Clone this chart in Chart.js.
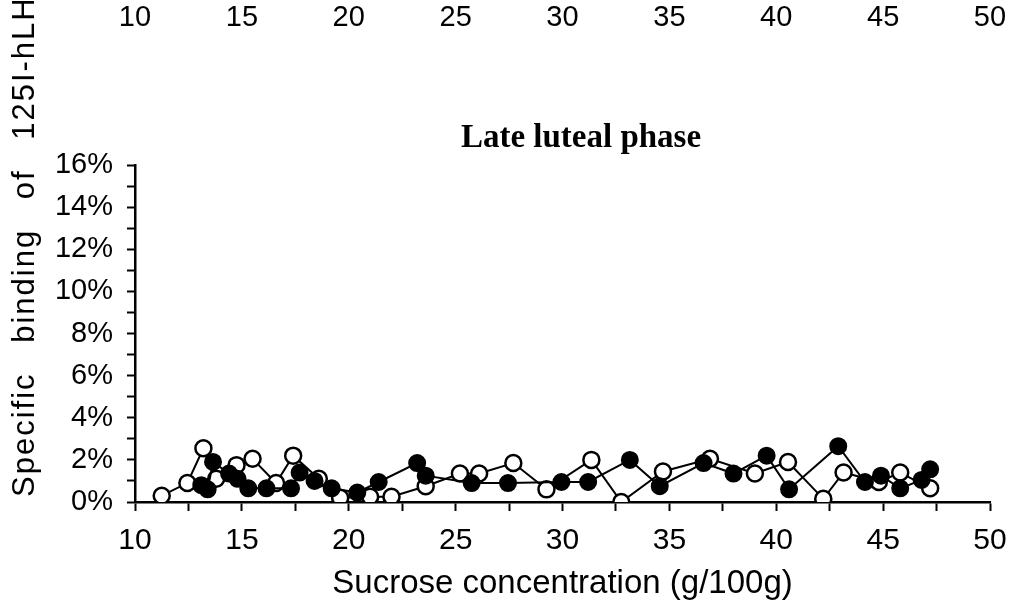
<!DOCTYPE html>
<html>
<head>
<meta charset="utf-8">
<script src="https://cdn.jsdelivr.net/npm/chart.js@4/dist/chart.umd.min.js"></script>
<style>
  html, body { margin: 0; padding: 0; background: #fff; }
  canvas { display: block; }
</style>
</head>
<body>
<canvas id="grafico" width="1015" height="610"></canvas>
<script>
// ── DATOS ─────────────────────────────────────────────
const tituloPanel = "Late luteal phase";
const tituloX = "Sucrose concentration (g/100g)";
const tituloY = "Specific binding of 125I-hLH";
const etiquetasArriba = [10, 15, 20, 25, 30, 35, 40, 45, 50];

// open circles
const abiertoX = [11.25, 12.45, 13.2, 13.8, 14.75, 15.5, 16.6, 17.4, 18.6, 19.6, 21.0, 22.0, 23.6,
  25.2, 26.1, 27.7, 29.25, 31.35, 32.75, 34.7, 36.9, 39.0, 40.55, 42.2, 43.15, 44.8, 45.8, 47.2];
const abiertoY = [0.3, 0.9, 2.55, 1.1, 1.75, 2.05, 0.9, 2.2, 1.1, 0.2, 0.25, 0.25, 0.75,
  1.35, 1.35, 1.85, 0.6, 2.0, 0.0, 1.45, 2.05, 1.35, 1.9, 0.15, 1.4, 0.95, 1.4, 0.65];

// filled circles
const llenoX = [13.1, 13.4, 13.65, 14.4, 14.8, 15.3, 16.15, 17.3, 17.7, 18.4, 19.2, 20.4, 21.4,
  23.2, 23.6, 25.75, 27.45, 29.95, 31.2, 33.15, 34.55, 36.6, 38.0, 39.55, 40.6, 42.9,
  44.15, 44.9, 45.8, 46.8, 47.2];
const llenoY = [0.8, 0.6, 1.9, 1.35, 1.1, 0.65, 0.65, 0.65, 1.4, 1.0, 0.65, 0.45, 0.95,
  1.85, 1.25, 0.9, 0.9, 0.95, 0.95, 2.0, 0.75, 1.85, 1.35, 2.2, 0.6, 2.65,
  0.95, 1.25, 0.65, 1.05, 1.55];

const puntos = (xs, ys) => xs.map((x, i) => ({ x, y: ys[i] }));

const fuente = "'Liberation Sans', Arial, sans-serif";

// ── TEXTOS EXTRA ──────────────────────────────────────
const textosExtra = {
  id: "textosExtra",
  afterDraw(chart) {
    const ctx = chart.ctx;
    const escalaX = chart.scales.x;
    ctx.save();
    ctx.fillStyle = "#000";

    // etiquetas del panel de arriba (recortado)
    ctx.font = "29px " + fuente;
    ctx.textAlign = "center";
    ctx.textBaseline = "middle";
    etiquetasArriba.forEach(v => ctx.fillText(String(v), escalaX.getPixelForValue(v), 18));

    // titulo del panel
    ctx.font = "bold 33px 'Liberation Serif', 'DejaVu Serif', serif";
    ctx.fillText(tituloPanel, 581, 138);

    // titulo del eje Y, girado
    ctx.translate(34, 497);
    ctx.rotate(-Math.PI / 2);
    ctx.font = "31px " + fuente;
    ctx.textAlign = "left";
    ctx.textBaseline = "alphabetic";
    ctx.letterSpacing = "2px";
    ctx.wordSpacing = "19px";
    ctx.fillText(tituloY, 0, 0);
    ctx.restore();
  }
};

// ── GRAFICO ───────────────────────────────────────────
const ctx = document.getElementById("grafico").getContext("2d");
new Chart(ctx, {
  type: "scatter",
  data: {
    datasets: [
      {
        label: "lleno",
        data: puntos(llenoX, llenoY),
        showLine: true,
        borderColor: "#000",
        backgroundColor: "#000",
        borderWidth: 2,
        pointRadius: 8,
        pointBorderWidth: 2,
        pointBackgroundColor: "#000",
        pointBorderColor: "#000",
      },
      {
        label: "abierto",
        data: puntos(abiertoX, abiertoY),
        showLine: true,
        borderColor: "#000",
        backgroundColor: "#fff",
        borderWidth: 2,
        pointRadius: 8,
        pointBorderWidth: 2.5,
        pointBackgroundColor: "#fff",
        pointBorderColor: "#000",
      },
    ],
  },
  options: {
    responsive: false,
    animation: false,
    layout: { padding: { top: 165, right: 25, left: 0, bottom: 0 } },
    plugins: { legend: { display: false }, tooltip: { enabled: false } },
    scales: {
      x: {
        type: "linear",
        min: 10, max: 50,
        afterFit: s => { s.height = 108; s.paddingRight = 0; s.paddingLeft = 0; },
        border: { display: true, color: "#000", width: 2.5 },
        grid: { drawOnChartArea: false, drawTicks: true, tickLength: 9, tickWidth: 2, color: "#000" },
        ticks: {
          stepSize: 2.5, autoSkip: false, maxRotation: 0, padding: 12,
          color: "#000",
          font: { family: fuente, size: 30 },
          callback: v => (v % 5 === 0 ? String(v) : ""),
        },
        title: {
          display: true, text: tituloX, color: "#000",
          font: { family: fuente, size: 33 },
          padding: { top: 0, bottom: 6 },
        },
      },
      y: {
        type: "linear",
        min: 0, max: 16,
        afterFit: s => { s.width = 135; },
        border: { display: true, color: "#000", width: 2.5 },
        grid: { drawOnChartArea: false, drawTicks: true, tickLength: 8, tickWidth: 2, color: "#000" },
        ticks: {
          stepSize: 1, autoSkip: false, padding: 14,
          color: "#000",
          font: { family: fuente, size: 29 },
          callback: v => (v % 2 === 0 ? v + "%" : ""),
        },
      },
    },
  },
  plugins: [textosExtra],
});
</script>
</body>
</html>
